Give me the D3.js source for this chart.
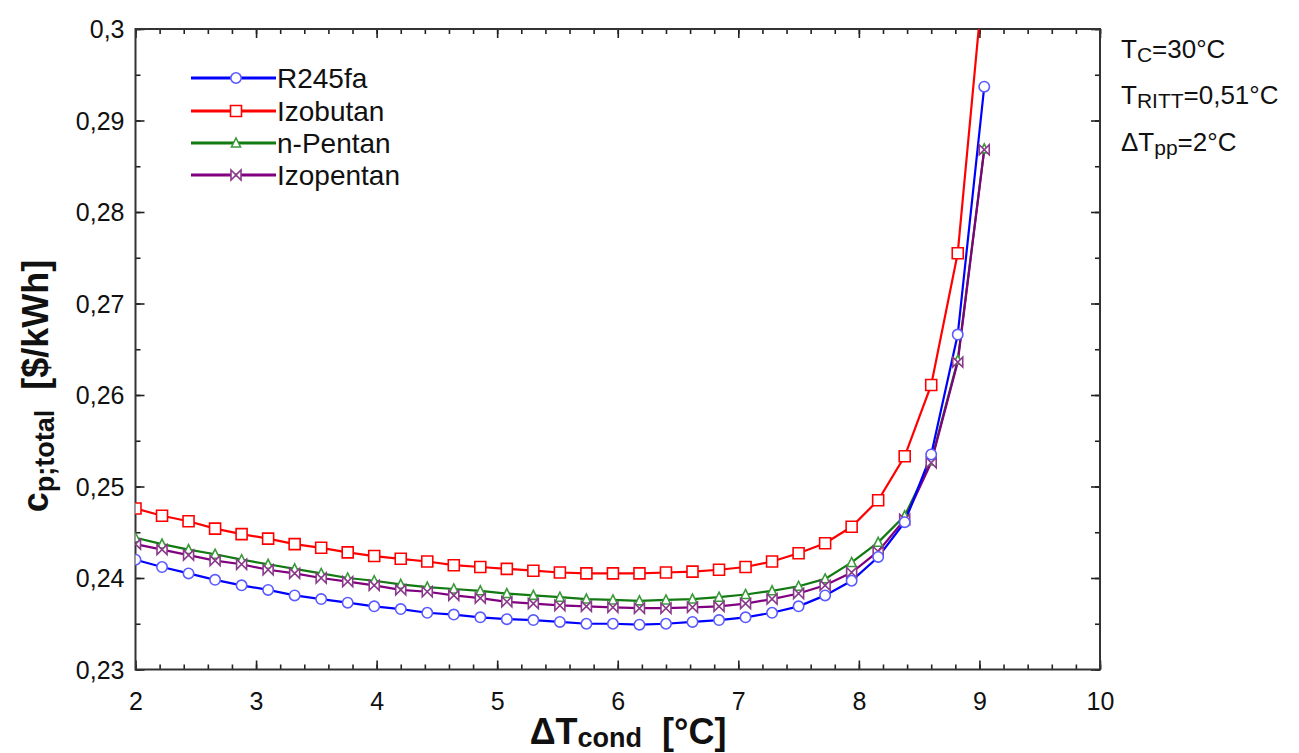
<!DOCTYPE html>
<html><head><meta charset="utf-8">
<script src="https://cdn.jsdelivr.net/npm/d3@7"></script>
<style>body{margin:0;background:#fff;} text{font-family:"Liberation Sans",Arial,sans-serif;white-space:pre;}</style>
</head><body>
<svg id="c" width="1299" height="753"></svg>
<script>
const xValues = [2,2.22,2.44,2.66,2.88,3.10,3.32,3.54,3.76,3.98,4.20,4.42,4.64,4.86,5.08,5.30,5.52,5.74,5.96,6.18,6.40,6.62,6.84,7.06,7.28,7.50,7.72,7.94,8.16,8.38,8.60,8.82,9.04];
const r245fa = [0.2420,0.2412,0.2405,0.2398,0.2392,0.2387,0.2381,0.2377,0.2373,0.2369,0.2366,0.2362,0.2360,0.2357,0.2355,0.2354,0.2352,0.2350,0.2350,0.2349,0.2350,0.2352,0.2354,0.2357,0.2362,0.2369,0.2381,0.2397,0.2423,0.2461,0.2535,0.2666,0.2937];
const izobutan = [0.2476,0.2468,0.2462,0.2454,0.2448,0.2443,0.2437,0.2433,0.2428,0.2424,0.2421,0.2418,0.2414,0.2412,0.2410,0.2408,0.2406,0.2405,0.2405,0.2405,0.2406,0.2407,0.2409,0.2412,0.2418,0.2427,0.2438,0.2456,0.2485,0.2533,0.2611,0.2755,0.3065];
const nPentan = [0.2444,0.2437,0.2431,0.2426,0.2420,0.2415,0.2410,0.2405,0.2400,0.2397,0.2393,0.2390,0.2388,0.2386,0.2383,0.2381,0.2379,0.2377,0.2376,0.2375,0.2376,0.2377,0.2379,0.2382,0.2386,0.2391,0.2399,0.2417,0.2439,0.2468,0.2528,0.2638,0.2869];
const izopentan = [0.2437,0.2431,0.2425,0.2419,0.2415,0.2409,0.2405,0.2400,0.2396,0.2392,0.2387,0.2385,0.2381,0.2378,0.2374,0.2372,0.2370,0.2369,0.2368,0.2367,0.2367,0.2368,0.2369,0.2372,0.2377,0.2383,0.2392,0.2406,0.2429,0.2464,0.2526,0.2636,0.2868];
const seriesNames = ["R245fa","Izobutan","n-Pentan","Izopentan"];
const xTicks = [2,3,4,5,6,7,8,9,10];
const yTicks = [0.23,0.24,0.25,0.26,0.27,0.28,0.29,0.30];
const yTickLabels = ["0,23","0,24","0,25","0,26","0,27","0,28","0,29","0,3"];

const series = [
  {name: seriesNames[0], values: r245fa, color:"#0000ff", mcolor:"#5a5aff", marker:"circle"},
  {name: seriesNames[1], values: izobutan, color:"#ff0000", mcolor:"#ff0000", marker:"square"},
  {name: seriesNames[2], values: nPentan, color:"#117a11", mcolor:"#3a9a3a", marker:"triangle"},
  {name: seriesNames[3], values: izopentan, color:"#800080", mcolor:"#8a3a8a", marker:"bowtie"}
];

const L=135.5, R=1100, T=29, B=669.5;
const svg = d3.select("#c");
const x = d3.scaleLinear().domain([2,10]).range([L,R]);
const y = d3.scaleLinear().domain([0.23,0.30]).range([B,T]);

svg.append("defs").append("clipPath").attr("id","clip")
  .append("rect").attr("x",L).attr("y",T).attr("width",R-L).attr("height",B-T);

const tc = "#222";
const xMinor = d3.range(2,10.001,0.2);
const yMinor = d3.range(0.23,0.3001,0.005);
const axB = svg.append("g").attr("transform",`translate(0,${B})`)
  .call(d3.axisBottom(x).tickValues(xMinor).tickSize(-5).tickFormat(""));
const axB2 = svg.append("g").attr("transform",`translate(0,${B})`)
  .call(d3.axisBottom(x).tickValues(xTicks).tickSize(-9).tickPadding(23).tickFormat(d3.format("d")));
const axT = svg.append("g").attr("transform",`translate(0,${T})`)
  .call(d3.axisTop(x).tickValues(xMinor).tickSize(-5).tickFormat(""));
const axT2 = svg.append("g").attr("transform",`translate(0,${T})`)
  .call(d3.axisTop(x).tickValues(xTicks).tickSize(-9).tickFormat(""));
const axL = svg.append("g").attr("transform",`translate(${L},0)`)
  .call(d3.axisLeft(y).tickValues(yMinor).tickSize(-5).tickFormat(""));
const axL2 = svg.append("g").attr("transform",`translate(${L},0)`)
  .call(d3.axisLeft(y).tickValues(yTicks).tickSize(-9).tickPadding(11).tickFormat((d,i)=>yTickLabels[i]));
const axR = svg.append("g").attr("transform",`translate(${R},0)`)
  .call(d3.axisRight(y).tickValues(yMinor).tickSize(-5).tickFormat(""));
const axR2 = svg.append("g").attr("transform",`translate(${R},0)`)
  .call(d3.axisRight(y).tickValues(yTicks).tickSize(-9).tickFormat(""));
[axB,axB2,axT,axT2,axL,axL2,axR,axR2].forEach(g=>{
  g.select(".domain").remove();
  g.selectAll("line").attr("stroke",tc).attr("stroke-width",1.6);
  g.selectAll("text").attr("font-size",25).attr("fill","#111").attr("font-family","Liberation Sans, Arial, sans-serif");
});
axL2.selectAll("text").attr("dy","0.35em");

svg.append("rect").attr("x",L).attr("y",T).attr("width",R-L).attr("height",B-T)
  .attr("fill","none").attr("stroke","#333").attr("stroke-width",2);

function markerPath(type){
  if(type==="circle") return d3.symbol().type(d3.symbolCircle).size(85)();
  if(type==="square") return "M-5.5,-5.5H5.5V5.5H-5.5Z";
  if(type==="triangle") return "M0,-5L4.5,4L-4.5,4Z";
  return "M-5,-5L5,5L5,-5L-5,5Z";
}

const plot = svg.append("g").attr("clip-path","url(#clip)");
const line = d3.line().x((d,i)=>x(xValues[i])).y(d=>y(d));
const order = [2,3,0,1];
order.forEach(k=>{
  const s = series[k];
  plot.append("path").datum(s.values).attr("d",line)
    .attr("fill","none").attr("stroke",s.color).attr("stroke-width",2.2);
});
order.forEach(k=>{
  const s = series[k];
  plot.selectAll(null).data(s.values).enter().append("path")
    .attr("transform",(d,i)=>`translate(${x(xValues[i])},${y(d)})`)
    .attr("d",markerPath(s.marker))
    .attr("fill","#fff").attr("stroke",s.mcolor).attr("stroke-width",1.6);
});

// legend
const lg = svg.append("g");
const legY = [78,111,143,175];
series.forEach((s,i)=>{
  lg.append("line").attr("x1",191).attr("x2",276).attr("y1",legY[i]).attr("y2",legY[i])
    .attr("stroke",s.color).attr("stroke-width",3);
  lg.append("path").attr("transform",`translate(236,${legY[i]})`).attr("d",markerPath(s.marker))
    .attr("fill","#fff").attr("stroke",s.mcolor).attr("stroke-width",1.6);
  lg.append("text").attr("x",277).attr("y",legY[i]).attr("dy","0.36em")
    .attr("font-size",28).attr("fill","#111").text(s.name);
});

// annotations
const an = svg.append("g").attr("fill","#111").attr("font-size",26);
const a1 = an.append("text").attr("x",1121).attr("y",58);
a1.append("tspan").text("T");
a1.append("tspan").attr("font-size",21).attr("dy",4).text("C");
a1.append("tspan").attr("dy",-4).text("=30°C");
const a2 = an.append("text").attr("x",1121).attr("y",104);
a2.append("tspan").text("T");
a2.append("tspan").attr("font-size",21).attr("dy",4).text("RITT");
a2.append("tspan").attr("dy",-4).text("=0,51°C");
const a3 = an.append("text").attr("x",1121).attr("y",151);
a3.append("tspan").text("ΔT");
a3.append("tspan").attr("font-size",21).attr("dy",4).text("pp");
a3.append("tspan").attr("dy",-4).text("=2°C");

// axis titles
const xt = svg.append("text").attr("x",628).attr("y",744).attr("text-anchor","middle")
  .attr("font-size",36).attr("font-weight","bold").attr("fill","#111");
xt.append("tspan").text("ΔT");
xt.append("tspan").attr("font-size",27).attr("dy",3).text("cond");
xt.append("tspan").attr("dy",-3).text("  [°C]");

const yt = svg.append("text").attr("transform","translate(48,386) rotate(-90)").attr("text-anchor","middle")
  .attr("font-size",36).attr("font-weight","bold").attr("fill","#111");
yt.append("tspan").text("c");
yt.append("tspan").attr("font-size",27).attr("dy",6).text("p;total");
yt.append("tspan").attr("dy",-6).text("  [$/kWh]");
</script>
</body></html>
